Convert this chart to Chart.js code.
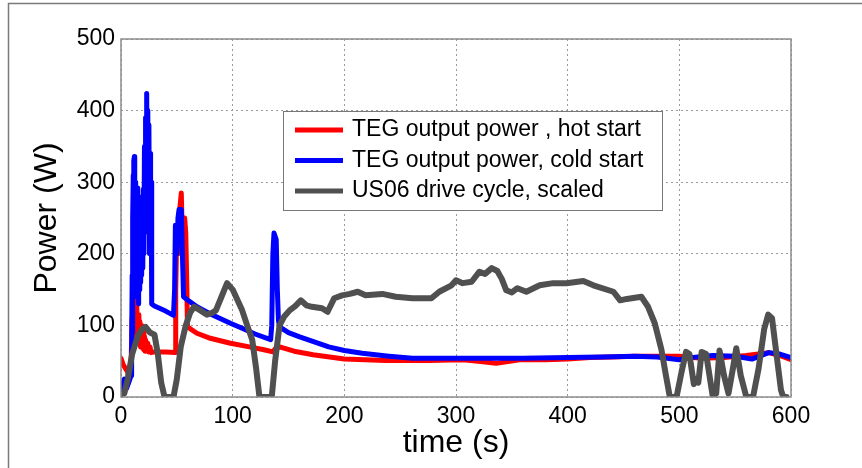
<!DOCTYPE html>
<html>
<head>
<meta charset="utf-8">
<script src="https://cdn.jsdelivr.net/npm/chart.js@4.4.1/dist/chart.umd.min.js"></script>
<style>
    html, body { margin: 0; padding: 0; background: #fff; }
    #wrap { position: relative; width: 862px; height: 468px; }
</style>
</head>
<body>
<div id="wrap"><canvas id="powerChart"></canvas></div>
<script>
// --- DATA ---
// TEG output power, hot start
const hotTime = [0, 2, 4, 6, 7, 8, 9, 10, 10.5, 11, 11.5, 12, 12.5, 13, 13.5, 14, 14.5, 15, 15.5, 16, 16.5, 17, 17.5, 18, 18.5, 19, 19.5, 20, 20.5, 21, 21.5, 22, 23, 24, 25, 26, 27, 30, 40, 48.5, 49, 50, 51, 52.5, 54, 55, 56, 57, 58, 59, 59.5, 68, 80, 98, 115, 128, 136, 138, 142, 155, 172, 200, 237, 276, 306, 320, 336, 348, 357, 380, 400, 420, 440, 460, 480, 500, 520, 540, 560, 580, 590, 600];
const hotPower = [54, 45, 40, 35, 26, 30, 45, 110, 70, 120, 80, 130, 85, 125, 90, 138, 95, 110, 80, 115, 75, 105, 70, 100, 72, 95, 68, 90, 66, 85, 64, 80, 66, 75, 63, 70, 62, 63, 63, 62, 150, 233, 200, 260, 285, 220, 180, 250, 229, 150, 98, 89, 82, 75, 70, 66, 63, 67, 70, 64, 59, 53, 51, 51, 52, 50, 47, 50, 52, 52, 53, 55, 56, 57, 57, 57, 54, 55, 58, 62, 58, 52];

// TEG output power, cold start
const coldTime = [0, 3, 5, 8, 9, 9.5, 10, 10.3, 10.6, 11, 11.3, 11.6, 12, 12.3, 12.6, 13, 13.3, 13.6, 14, 14.3, 14.6, 15, 15.3, 15.6, 16, 16.3, 16.6, 17, 17.3, 17.6, 18, 18.5, 19, 19.5, 20, 20.5, 21, 21.5, 22, 22.5, 23, 23.5, 24, 24.5, 25, 25.5, 26, 26.5, 27, 27.5, 30, 40, 47, 48, 48.7, 50, 51, 52, 53, 54, 55, 56, 60, 68, 80, 98, 110, 120, 134, 135, 136, 137, 139, 140, 141, 142, 150, 160, 175, 186, 200, 216, 240, 261, 300, 330, 360, 400, 430, 460, 480, 500, 510, 530, 550, 565, 580, 590, 600];
const coldPower = [10, 25, 12, 25, 30, 60, 170, 90, 250, 310, 180, 330, 336, 220, 300, 160, 290, 140, 280, 150, 292, 200, 280, 130, 260, 150, 270, 180, 250, 160, 230, 170, 250, 180, 290, 200, 350, 230, 390, 300, 424, 260, 400, 230, 380, 200, 340, 210, 300, 130, 127, 120, 114, 150, 240, 200, 250, 262, 230, 262, 200, 140, 135, 126, 116, 103, 95, 88, 80, 100, 200, 229, 220, 150, 107, 98, 90, 84, 76, 70, 65, 61, 57, 54, 54, 54, 54, 55, 56, 57, 56, 52, 55, 58, 57, 53, 62, 60, 55];

// US06 drive cycle, scaled
const cycleTime = [0, 3, 6, 10, 15, 19, 22, 26, 30, 33, 36, 39, 47, 50, 53.5, 58, 62, 65.5, 70, 77, 81, 85, 90, 95, 100, 108.5, 113, 117.5, 121, 124, 135, 138, 142, 146, 151, 156, 161, 166, 171, 180, 185, 191, 198, 205, 212, 219, 234, 246, 261, 278, 285, 296, 300, 306, 314, 321, 326, 332, 337, 341, 345, 350, 355, 363, 375, 387, 399, 414, 423, 441, 447, 453, 466, 472, 478, 484, 488, 491.5, 497.5, 502, 506, 509, 513, 515, 517, 520, 524, 530, 533, 536, 540, 544, 548, 551, 555, 560, 566, 571, 576, 579.6, 583, 587, 591, 593, 596];
const cyclePower = [2, 5, 25, 60, 85, 95, 98, 90, 87, 60, 20, 0, 0, 25, 70, 100, 118, 126, 122, 115, 117, 121, 140, 159, 150, 121, 100, 80, 40, 0, 0, 50, 100, 112, 121, 127, 135, 128, 126, 124, 119, 138, 142, 144, 147, 142, 144, 140, 138, 138, 147, 156, 163, 159, 161, 175, 172, 180, 176, 165, 149, 146, 152, 147, 156, 159, 159, 162, 156, 147, 135, 137, 140, 126, 103, 66, 30, 0, 0, 35, 63, 60, 18, 25, 20, 63, 60, 0, 5, 65, 30, 5, 40, 68, 30, 0, 0, 40, 95, 115, 110, 60, 10, 0, 0];

const seriesLabels = ['TEG output power , hot start', 'TEG output power, cold start', 'US06 drive cycle, scaled'];
const seriesColors = ['#ff0000', '#0000ff', '#505050'];

const xMin = 0, xMax = 600, xStep = 100;
const yMin = 0, yMax = 500, yStep = 100;

const FONT = "'Liberation Sans', Arial, Helvetica, sans-serif";
const zip = (xs, ys) => xs.map((x, i) => ({ x: x, y: ys[i] }));

// outer figure frame (top + left edge of the original screenshot)
const framePlugin = {
    id: 'frame',
    beforeDraw(chart) {
        const ctx = chart.ctx;
        ctx.save();
        ctx.fillStyle = '#ffffff';
        ctx.fillRect(0, 0, chart.width, chart.height);
        ctx.strokeStyle = '#7a7a7a';
        ctx.lineWidth = 1.5;
        ctx.beginPath();
        ctx.moveTo(8.5, chart.height);
        ctx.lineTo(8.5, 3.5);
        ctx.lineTo(chart.width, 3.5);
        ctx.stroke();
        ctx.restore();
    }
};

// axes box + legend box drawn over the lines
const boxLegendPlugin = {
    id: 'boxLegend',
    afterDatasetsDraw(chart) {
        const ctx = chart.ctx;
        const a = chart.chartArea;
        ctx.save();
        ctx.strokeStyle = '#8c8c8c';
        ctx.lineWidth = 1.5;
        ctx.strokeRect(a.left, a.top, a.right - a.left, a.bottom - a.top);

        // legend
        const bx = 283.5, by = 111.5, bw = 379, bh = 99;
        ctx.fillStyle = '#ffffff';
        ctx.fillRect(bx, by, bw, bh);
        ctx.strokeStyle = '#777777';
        ctx.lineWidth = 1;
        ctx.strokeRect(bx, by, bw, bh);
        const rows = [130, 160.5, 191];
        ctx.font = '23px ' + FONT;
        ctx.textBaseline = 'middle';
        ctx.textAlign = 'left';
        chart.data.datasets.forEach((ds, i) => {
            ctx.strokeStyle = ds.borderColor;
            ctx.lineWidth = 5;
            ctx.beginPath();
            ctx.moveTo(295, rows[i]);
            ctx.lineTo(343, rows[i]);
            ctx.stroke();
            ctx.fillStyle = '#000000';
            ctx.fillText(ds.label, 352, rows[i]);
        });
        ctx.restore();
    }
};

new Chart(document.getElementById('powerChart'), {
    type: 'line',
    data: {
        datasets: [
            { label: seriesLabels[0], data: zip(hotTime, hotPower), borderColor: seriesColors[0], borderWidth: 5, order: 2 },
            { label: seriesLabels[1], data: zip(coldTime, coldPower), borderColor: seriesColors[1], borderWidth: 5, order: 1 },
            { label: seriesLabels[2], data: zip(cycleTime, cyclePower), borderColor: seriesColors[2], borderWidth: 6, order: 0 }
        ]
    },
    options: {
        responsive: true,
        maintainAspectRatio: false,
        animation: false,
        elements: {
            point: { radius: 0 },
            line: { tension: 0, fill: false, borderJoinStyle: 'round', borderCapStyle: 'round' }
        },
        layout: { padding: { top: 39, right: 71, left: 0, bottom: 0 } },
        plugins: { legend: { display: false }, tooltip: { enabled: false } },
        scales: {
            x: {
                type: 'linear',
                min: xMin, max: xMax,
                ticks: { stepSize: xStep, color: '#000', padding: 6, font: { family: FONT, size: 23 } },
                grid: { color: '#9a9a9a', lineWidth: 1, drawTicks: false },
                border: { display: false, dash: [2, 3] },
                title: { display: true, text: 'time (s)', color: '#000', font: { family: FONT, size: 32 }, padding: { top: 0, bottom: 6 } },
                afterFit(s) { s.height = 71; s.paddingLeft = 0; s.paddingRight = 0; }
            },
            y: {
                min: yMin, max: yMax,
                ticks: { stepSize: yStep, color: '#000', padding: 6, font: { family: FONT, size: 23 } },
                grid: { color: '#9a9a9a', lineWidth: 1, drawTicks: false },
                border: { display: false, dash: [2, 3] },
                title: { display: true, text: 'Power (W)', color: '#000', font: { family: FONT, size: 32 }, padding: { top: 28, bottom: 0 } },
                afterFit(s) { s.width = 121; s.paddingTop = 0; s.paddingBottom = 0; }
            }
        }
    },
    plugins: [framePlugin, boxLegendPlugin]
});
</script>
</body>
</html>
